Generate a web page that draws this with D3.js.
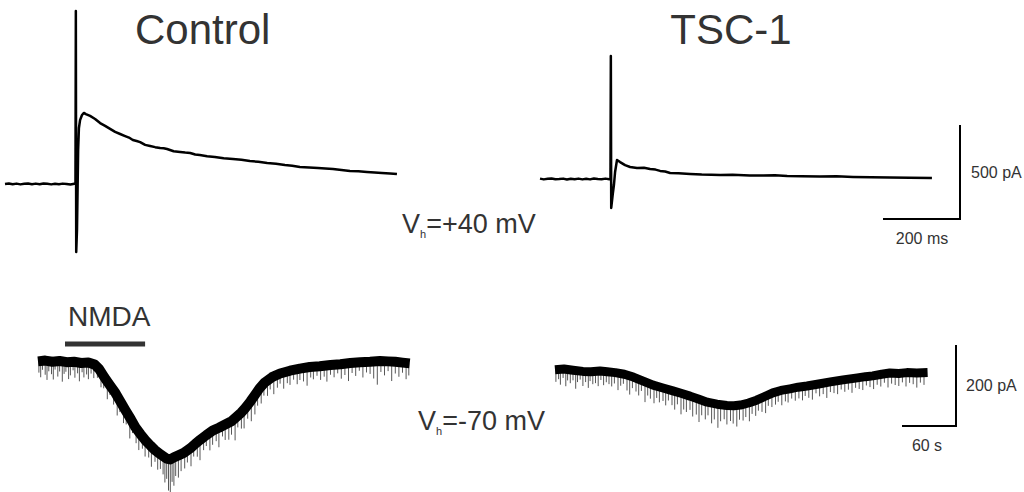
<!DOCTYPE html>
<html>
<head>
<meta charset="utf-8">
<script src="https://cdn.jsdelivr.net/npm/d3@7"></script>
<style>
  body { margin: 0; background: #fff; }
  svg { display: block; }
  text { font-family: "Liberation Sans", Arial, sans-serif; fill: #333; }
</style>
</head>
<body>
<svg id="fig"></svg>
<script>

// ---- data ----
// evoked NMDA currents at +40 mV (time in ms, current in pA)
const ctrlEvokedT = [0,10,20,30,40,50,60,70,80,90,100,110,120,130,140,150,160,170,180,
  183,184,185,187,190,192,195,200,205,210,
  221,234,247,260,273,286,299,312,322,332,342,351,364,377,390,403,412,421,438,455,
  468,481,494,506,525,545,568,592,614,636,658,681,704,727,746,766,790,813,832,852,
  874,896,918,940,960,979,1000,1018];
const ctrlEvokedI = [0,3,-1,2,-2,1,3,-1,2,-1,3,1,-2,1,-1,2,0,-3,1,
  1,920,-362,-245,181,298,340,367,378,372,
  362,346,324,309,293,277,266,255,247,234,229,223,208,202,196,191,190,186,174,170,
  167,165,157,154,148,144,137,133,129,122,118,112,108,101,97,90,88,85,83,80,
  74,69,68,64,61,59,56,53];

const tscEvokedT = [0,10,20,30,40,50,60,70,80,90,100,110,120,130,140,150,160,170,180,
  183,184,185,189,192,195,200,208,
  221,234,252,270,286,300,312,325,338,360,390,420,445,468,500,
  545,580,610,642,680,727,770,813,860,909,960,1018];
const tscEvokedI = [2,-2,1,3,-1,0,2,-3,1,-1,2,-2,1,-2,3,0,-1,2,-1,
  0,654,-154,-80,-32,37,101,90,
  74,64,58,60,53,50,43,40,32,30,27,24,23,21,22,
  19,18,20,16,15,13,14,11,9,8,7,5];

// bath NMDA currents at -70 mV (time in s, current in pA)
const ctrlBathT = [0,8,16,24,32,40,48,56,63,68,74,80,86,92,97,103,108,114,119,125,130,135,139,143,
  147,151,156,162,169,175,180,187,194,201,208,215,221,226,230,236,241,246,252,260,269,
  280,291,302,313,325,336,347,358,369,380,389,397,405,413];
const ctrlBathI = [4,6,3,5,2,3,0,1,-4,-15,-36,-55,-74,-97,-116,-138,-158,-176,-190,-204,-215,-224,-230,-236,
  -238,-233,-228,-222,-211,-199,-190,-178,-167,-160,-152,-144,-132,-122,-112,-95,-79,-63,-48,-35,-26,
  -19,-14,-10,-8,-5,-3,0,2,3,5,4,3,1,-1];

const tscBathT = [0,10,20,31,40,50,58,67,77,87,98,109,120,131,140,150,160,169,180,191,199,206,
  215,224,233,242,251,261,270,280,293,306,320,336,345,353,363,372,382,391,402,414];
const tscBathI = [3,5,2,-1,-2,0,-2,-4,-8,-15,-25,-35,-42,-49,-55,-62,-70,-77,-82,-85,-86,-84,
  -79,-72,-63,-54,-48,-44,-40,-37,-32,-27,-22,-17,-14,-12,-8,-5,-6,-4,-5,-4];

// spontaneous inward events riding on the bath traces (time s, depth pA below trace)
const ctrlSpikeT = [1,3,5,8,10,12,15,17,19,22,24,27,29,31,34,36,39,41,44,46,49,51,54,56,59,62,
  66,70,73,77,80,84,88,91,95,98,102,105,109,112,116,119,123,126,130,133,136,
  139,141,143,145,147,149,151,153,156,159,
  163,166,170,173,177,180,184,187,191,194,198,201,205,208,212,215,219,222,226,229,233,237,
  241,244,248,251,255,258,262,266,269,273,277,280,284,288,291,295,299,303,306,310,
  314,318,321,325,329,333,337,341,345,349,353,357,361,365,369,373,377,381,385,389,
  393,397,401,405,409,412];
const ctrlSpikeDepth = [28,40,22,35,47,25,31,44,20,38,26,50,30,24,42,33,21,39,27,46,23,36,29,41,25,34,
  26,38,30,44,24,35,48,28,40,32,52,27,37,45,30,41,34,50,29,43,36,
  45,62,50,78,90,58,70,48,55,42,
  40,30,46,28,36,50,32,27,44,35,30,48,26,38,42,33,55,29,40,47,34,52,
  48,36,42,30,38,27,44,32,25,40,29,35,24,37,28,33,45,26,31,23,
  34,27,40,24,31,22,36,28,44,25,33,21,38,26,30,42,58,27,35,24,
  48,29,36,25,40,30];

const tscSpikeT = [1,4,6,9,12,14,17,20,23,25,28,31,34,37,39,42,45,48,51,54,57,60,
  63,66,70,73,76,80,83,86,90,93,96,100,103,106,110,113,116,120,123,126,
  130,133,136,140,143,146,150,153,157,160,163,167,170,174,177,181,184,188,191,195,
  198,202,205,209,212,216,219,223,226,230,234,237,241,245,248,252,256,259,263,267,
  271,275,278,282,286,290,294,298,302,306,310,314,318,322,326,330,334,338,342,346,
  350,354,358,362,366,370,374,378,382,386,390,394,398,402,406,410];
const tscSpikeDepth = [30,24,38,22,42,27,33,25,45,28,21,36,26,40,23,31,29,37,22,34,26,30,
  35,27,42,30,24,38,46,28,33,40,26,50,31,36,44,29,38,32,41,27,
  36,45,30,52,38,42,34,48,40,56,37,44,32,50,39,58,41,35,47,38,
  44,52,36,40,33,46,30,38,28,35,42,27,34,31,26,37,29,33,25,32,
  28,34,24,30,36,22,31,27,38,25,29,33,23,30,26,35,24,28,32,22,
  27,33,24,30,22,35,26,29,31,23,34,25,28,36,24,30];

const nmdaWindow = [30, 119];     // s, application bar
const scaleTop = [200, 500];      // ms, pA
const scaleBottom = [60, 200];    // s, pA

// ---- layout ----
const width = 1024, height = 492;
const msPx = 0.385, pATopPx = 0.188;   // px per ms / pA (top row)
const sPx = 0.9, pABotPx = 0.405;      // px per s / pA (bottom row)

const svg = d3.select('#fig').attr('width', width).attr('height', height);

function makeScales(x0, y0, xPer, yPer) {
  const x = d3.scaleLinear().domain([0, 100]).range([x0, x0 + 100 * xPer]);
  const y = d3.scaleLinear().domain([0, 100]).range([y0, y0 - 100 * yPer]);
  return { x, y };
}

const topCtrl = makeScales(5, 184, msPx, pATopPx);
const topTsc = makeScales(540, 179, msPx, pATopPx);
const botCtrl = makeScales(38, 363, sPx, pABotPx);
const botTsc = makeScales(555, 371, sPx, pABotPx);

function drawTrace(sc, ts, is, w) {
  const line = d3.line().x(d => sc.x(d[0])).y(d => sc.y(d[1]));
  svg.append('path')
    .datum(d3.zip(ts, is))
    .attr('d', line)
    .attr('fill', 'none')
    .attr('stroke', '#000')
    .attr('stroke-width', w)
    .attr('stroke-linejoin', 'round')
    .attr('stroke-linecap', 'butt');
}

// current on trace at time t (anchor for a spike)
function valueAt(ts, is, t) {
  const i = Math.max(1, Math.min(ts.length - 1, d3.bisectLeft(ts, t)));
  const f = (t - ts[i - 1]) / (ts[i] - ts[i - 1]);
  return is[i - 1] + f * (is[i] - is[i - 1]);
}

function drawSpikes(sc, ts, is, spT, spD) {
  svg.append('g').selectAll('line')
    .data(d3.zip(spT, spD))
    .enter().append('line')
    .attr('x1', d => sc.x(d[0])).attr('x2', d => sc.x(d[0]))
    .attr('y1', d => sc.y(valueAt(ts, is, d[0])))
    .attr('y2', d => sc.y(valueAt(ts, is, d[0]) - d[1]))
    .attr('stroke', '#444')
    .attr('stroke-width', 0.9);
}

// top row
drawTrace(topCtrl, ctrlEvokedT, ctrlEvokedI, 2.5);
drawTrace(topTsc, tscEvokedT, tscEvokedI, 2.5);

// bottom row
drawSpikes(botCtrl, ctrlBathT, ctrlBathI, ctrlSpikeT, ctrlSpikeDepth);
drawSpikes(botTsc, tscBathT, tscBathI, tscSpikeT, tscSpikeDepth);
drawTrace(botCtrl, ctrlBathT, ctrlBathI, 10);
drawTrace(botTsc, tscBathT, tscBathI, 9);

// NMDA bar
svg.append('line')
  .attr('x1', botCtrl.x(nmdaWindow[0])).attr('x2', botCtrl.x(nmdaWindow[1]))
  .attr('y1', 344).attr('y2', 344)
  .attr('stroke', '#333').attr('stroke-width', 5);
svg.append('text').attr('x', 68).attr('y', 326).attr('font-size', 28).text('NMDA');

// scale bars
function scaleBar(sc, cornerX, cornerY, vals) {
  const len = sc.x(vals[0]) - sc.x(0);
  const hgt = sc.y(0) - sc.y(vals[1]);
  svg.append('path')
    .attr('d', `M${cornerX},${cornerY - hgt}V${cornerY}H${cornerX - len}`)
    .attr('fill', 'none').attr('stroke', '#000').attr('stroke-width', 2);
}
scaleBar(topTsc, 960, 219, scaleTop);
scaleBar(botTsc, 956, 426, scaleBottom);

svg.append('text').attr('x', 971).attr('y', 178).attr('font-size', 16).text(scaleTop[1] + ' pA');
svg.append('text').attr('x', 922).attr('y', 244).attr('font-size', 16).attr('text-anchor', 'middle').text(scaleTop[0] + ' ms');
svg.append('text').attr('x', 966).attr('y', 391).attr('font-size', 16).text(scaleBottom[1] + ' pA');
svg.append('text').attr('x', 927).attr('y', 451).attr('font-size', 16).attr('text-anchor', 'middle').text(scaleBottom[0] + ' s');

// titles
svg.append('text').attr('x', 135).attr('y', 44).attr('font-size', 42).text('Control');
svg.append('text').attr('x', 731).attr('y', 44).attr('font-size', 42).attr('text-anchor', 'middle').text('TSC-1');

// holding potentials
function vhLabel(x, y, rest) {
  const t = svg.append('text').attr('x', x).attr('y', y).attr('font-size', 27);
  t.append('tspan').text('V');
  t.append('tspan').attr('font-size', 11).attr('dy', 5).text('h');
  t.append('tspan').attr('dy', -5).text(rest);
}
vhLabel(402, 233, '=+40 mV');
vhLabel(418, 430, '=-70 mV');

</script>
</body>
</html>
